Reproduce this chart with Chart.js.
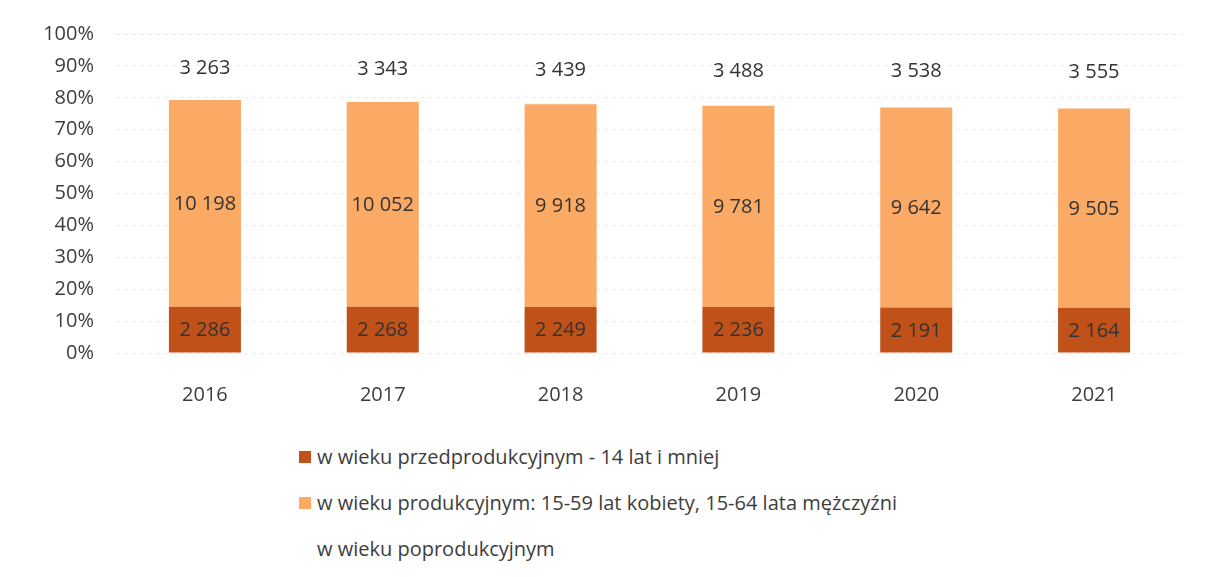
<!DOCTYPE html>
<html>
<head>
<meta charset="utf-8">
<script src="https://cdn.jsdelivr.net/npm/chart.js@4"></script>
<style>
  html, body { margin: 0; padding: 0; background: #fff; }
  #wrap { position: relative; width: 1211px; height: 577px; }
  #chart { position: absolute; left: 0; top: 0; }
  #legend { position: absolute; left: 299px; top: 434px; font-family: 'Open Sans', sans-serif; font-size: 20px; color: #3d3d3d; }
  .lg-item { display: flex; align-items: center; height: 46px; line-height: 28px; }
  .lg-box { width: 12px; height: 12px; margin-right: 6px; }
</style>
</head>
<body>
<div id="wrap">
  <canvas id="chart" width="1211" height="427"></canvas>
  <div id="legend"></div>
</div>
<script>
// ===== Data =====
const years      = ['2016', '2017', '2018', '2019', '2020', '2021'];
const preProd    = [2286, 2268, 2249, 2236, 2191, 2164];
const prod       = [10198, 10052, 9918, 9781, 9642, 9505];
const postProd   = [3263, 3343, 3439, 3488, 3538, 3555];
const yTicks     = [0, 10, 20, 30, 40, 50, 60, 70, 80, 90, 100];

const seriesNames  = [
  'w wieku przedprodukcyjnym - 14 lat i mniej',
  'w wieku produkcyjnym: 15-59 lat kobiety, 15-64 lata mężczyźni',
  'w wieku poprodukcyjnym',
];
const seriesColors = ['#bf5119', '#fbaa66', 'rgba(255,255,255,0)'];
const rawSeries    = [preProd, prod, postProd];

// share of each year's total, in percent
const totals = years.map((_, i) => preProd[i] + prod[i] + postProd[i]);
const pct = arr => arr.map((v, i) => v / totals[i] * 100);

function fmt(n) {
  return String(n).replace(/\B(?=(\d{3})+(?!\d))/g, ' ');
}

// ===== Value labels plugin =====
const valueLabels = {
  id: 'valueLabels',
  afterDatasetsDraw(chart) {
    const ctx = chart.ctx;
    ctx.save();
    ctx.font = '20px "Open Sans", sans-serif';
    ctx.fillStyle = '#333';
    ctx.textAlign = 'center';
    ctx.textBaseline = 'middle';
    chart.data.datasets.forEach((ds, di) => {
      chart.getDatasetMeta(di).data.forEach((bar, i) => {
        const mid = (bar.y + bar.base) / 2;
        ctx.fillText(fmt(rawSeries[di][i]), bar.x, mid + 1);
      });
    });
    ctx.restore();
  }
};

const FONT = { family: '"Open Sans", sans-serif', size: 20 };

new Chart(document.getElementById('chart'), {
  type: 'bar',
  data: {
    labels: years,
    datasets: rawSeries.map((arr, i) => ({
      label: seriesNames[i],
      data: pct(arr),
      backgroundColor: seriesColors[i],
      borderWidth: 0,
      categoryPercentage: 1,
      barPercentage: 0.405,
    })),
  },
  options: {
    responsive: false,
    animation: false,
    layout: { padding: { top: 34, left: 10, right: 28, bottom: 0 } },
    plugins: { legend: { display: false }, tooltip: { enabled: false } },
    scales: {
      x: {
        stacked: true,
        grid: { display: false },
        border: { display: false },
        ticks: { color: '#3d3d3d', font: FONT, padding: 22 },
        afterFit: s => { s.height = 74; },
      },
      y: {
        stacked: true,
        min: 0,
        max: 100,
        afterBuildTicks: s => { s.ticks = yTicks.map(v => ({ value: v })); },
        grid: { color: '#ececec', drawTicks: false },
        border: { display: false, dash: [4, 4] },
        ticks: { color: '#3d3d3d', font: FONT, padding: 22, callback: v => v + '%' },
        afterFit: s => { s.width = 106; },
      },
    },
  },
  plugins: [valueLabels],
});

// ===== HTML legend =====
document.getElementById('legend').innerHTML = seriesNames.map((name, i) => `
  <div class="lg-item">
    <span class="lg-box" style="background:${seriesColors[i]}"></span>${name}
  </div>`).join('');
</script>
</body>
</html>
